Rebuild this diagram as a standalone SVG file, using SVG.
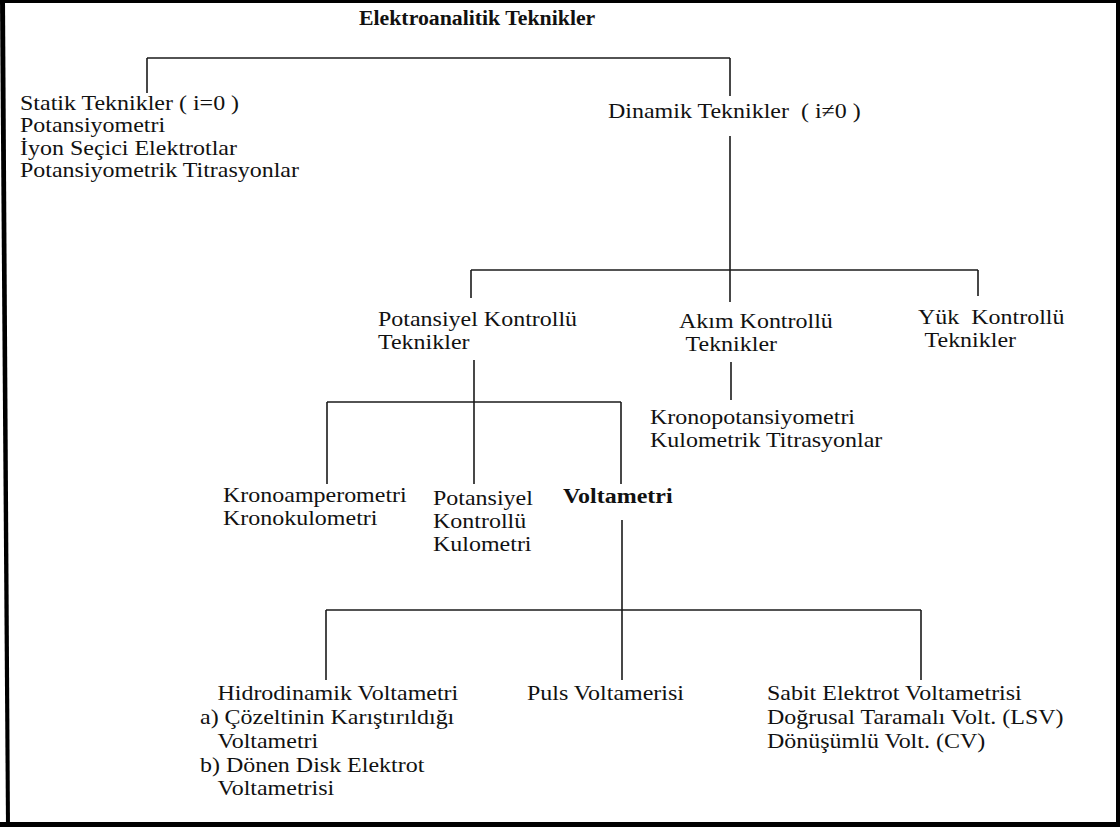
<svg xmlns="http://www.w3.org/2000/svg" width="1120" height="827" viewBox="0 0 1120 827">
<style>
text{font-family:"Liberation Serif","Times New Roman",serif;font-size:22px;fill:#111;white-space:pre}
.b{font-weight:bold}
.t{font-size:20px;font-weight:bold}
.c line{stroke:#1a1a1a;stroke-width:1.6;fill:none}
.frame{fill:#000}
</style>
<rect width="1120" height="827" fill="#fff"/>
<g id="frame" class="frame">
<rect x="0" y="0" width="1120" height="3"/>
<rect x="1116" y="0" width="4" height="827"/>
<rect x="0" y="822" width="1120" height="5"/>
<polygon points="0,0 5,0 10,827 6,827"/>
</g>
<g id="connectors" class="c">
<line x1="147" y1="58" x2="730" y2="58"/>
<line x1="147" y1="58" x2="147" y2="93"/>
<line x1="730" y1="58" x2="730" y2="96"/>
<line x1="730" y1="136" x2="730" y2="270"/>
<line x1="471" y1="270" x2="978" y2="270"/>
<line x1="471" y1="270" x2="471" y2="298"/>
<line x1="730" y1="270" x2="730" y2="302"/>
<line x1="978" y1="270" x2="978" y2="296"/>
<line x1="474" y1="360" x2="474" y2="484"/>
<line x1="731" y1="362" x2="731" y2="400"/>
<line x1="327" y1="402" x2="621" y2="402"/>
<line x1="327" y1="402" x2="327" y2="484"/>
<line x1="621" y1="402" x2="621" y2="484"/>
<line x1="622" y1="520" x2="622" y2="680"/>
<line x1="326" y1="610" x2="921" y2="610"/>
<line x1="326" y1="610" x2="326" y2="680"/>
<line x1="921" y1="610" x2="921" y2="680"/>
</g>
<g id="title" transform="translate(359,25) scale(1.09 1)"><text class="t">Elektroanalitik Teknikler</text></g>
<g id="statik" transform="translate(20,110) scale(1.09 1)">
<text y="0">Statik Teknikler ( i=0 )</text>
<text y="22.5">Potansiyometri</text>
<text y="45">İyon Seçici Elektrotlar</text>
<text y="67.5">Potansiyometrik Titrasyonlar</text>
</g>
<g id="dinamik" transform="translate(608,118) scale(1.09 1)"><text>Dinamik Teknikler  ( i≠0 )</text></g>
<g id="potansiyel-kontrollu" transform="translate(378,326) scale(1.09 1)">
<text y="0">Potansiyel Kontrollü</text>
<text y="23">Teknikler</text>
</g>
<g id="akim-kontrollu" transform="translate(679,328) scale(1.09 1)">
<text x="0" y="0">Akım Kontrollü</text>
<text x="6" y="23">Teknikler</text>
</g>
<g id="yuk-kontrollu" transform="translate(918,324) scale(1.09 1)">
<text x="0" y="0">Yük  Kontrollü</text>
<text x="6" y="23">Teknikler</text>
</g>
<g id="kronopotansiyometri" transform="translate(650,424) scale(1.09 1)">
<text y="0">Kronopotansiyometri</text>
<text y="23">Kulometrik Titrasyonlar</text>
</g>
<g id="kronoamperometri" transform="translate(223,502) scale(1.09 1)">
<text y="0">Kronoamperometri</text>
<text y="23">Kronokulometri</text>
</g>
<g id="potansiyel-kulometri" transform="translate(433,505) scale(1.09 1)">
<text y="0">Potansiyel</text>
<text y="23">Kontrollü</text>
<text y="46">Kulometri</text>
</g>
<g id="voltametri" transform="translate(563,503) scale(1.09 1)"><text class="b">Voltametri</text></g>
<g id="hidrodinamik" transform="translate(200,700) scale(1.09 1)">
<text x="16" y="0">Hidrodinamik Voltametri</text>
<text x="0" y="24">a) Çözeltinin Karıştırıldığı</text>
<text x="16" y="48">Voltametri</text>
<text x="0" y="72">b) Dönen Disk Elektrot</text>
<text x="16" y="95">Voltametrisi</text>
</g>
<g id="puls" transform="translate(527,700) scale(1.09 1)"><text>Puls Voltamerisi</text></g>
<g id="sabit" transform="translate(767,700) scale(1.09 1)">
<text y="0">Sabit Elektrot Voltametrisi</text>
<text y="24">Doğrusal Taramalı Volt. (LSV)</text>
<text y="48">Dönüşümlü Volt. (CV)</text>
</g>
</svg>
